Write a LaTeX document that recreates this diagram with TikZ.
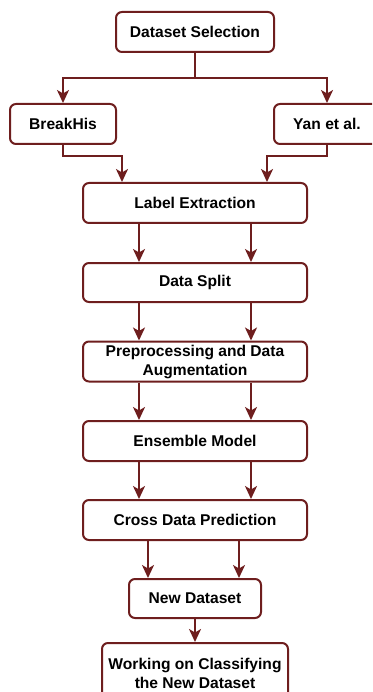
\documentclass[tikz,border=0pt]{standalone}
\usepackage{fontspec}
\setmainfont{Liberation Sans}
\usetikzlibrary{arrows.meta}
\definecolor{maroon}{RGB}{110,30,30}
\begin{document}
\begin{tikzpicture}[x=1pt,y=-1pt,
  box/.style={draw=maroon,line width=2pt,rounded corners=6pt,fill=white,
    align=center,inner sep=0pt,
    font=\fontsize{15.6}{19}\selectfont\bfseries},
  arr/.style={draw=maroon,line width=2pt,-{Stealth[length=13pt,width=12pt,inset=3.5pt]}}]
\useasboundingbox (0,0) rectangle (372,692);
\clip (0,0) rectangle (372,692);
\node[box,minimum width=158pt,minimum height=40pt] (ds) at (195,32) {Dataset Selection};
\node[box,minimum width=106pt,minimum height=40pt] (bh) at (63,124) {BreakHis};
\node[box,minimum width=106pt,minimum height=40pt] (yan) at (327,124) {Yan et al.};
\node[box,minimum width=224pt,minimum height=40pt] (le) at (195,203) {Label Extraction};
\node[box,minimum width=224pt,minimum height=39pt] (sp) at (195,282.5) {Data Split};
\node[box,minimum width=224pt,minimum height=40pt] (pre) at (195,361.5) {Preprocessing and Data\\Augmentation};
\node[box,minimum width=224pt,minimum height=40pt] (ens) at (195,441) {Ensemble Model};
\node[box,minimum width=224pt,minimum height=40pt] (cdp) at (195,520) {Cross Data Prediction};
\node[box,minimum width=132pt,minimum height=39pt] (nd) at (195,598.5) {New Dataset};
\node[box,minimum width=186pt,minimum height=60pt] (wk) at (195,673) {Working on Classifying\\the New Dataset};
% split from dataset selection
\coordinate (j) at (195,78);
\draw[arr] (ds.south) -- (j) -| (bh.north);
\draw[arr] (j) -| (yan.north);
% merge into label extraction
\coordinate (b1) at (122,156);
\coordinate (y1) at (267,156);
\draw[arr] (bh.south) |- (b1) -- (b1 |- le.north);
\draw[arr] (yan.south) |- (y1) -- (y1 |- le.north);
% pairs
\foreach \a/\b in {le/sp,sp/pre,pre/ens,ens/cdp}{
  \draw[arr] (\a.south -| 139,0) -- (\b.north -| 139,0);
  \draw[arr] (\a.south -| 251,0) -- (\b.north -| 251,0);
}
\draw[arr] (cdp.south -| 148,0) -- (nd.north -| 148,0);
\draw[arr] (cdp.south -| 239,0) -- (nd.north -| 239,0);
\draw[arr] (nd.south) -- (wk.north);
\end{tikzpicture}
\end{document}
